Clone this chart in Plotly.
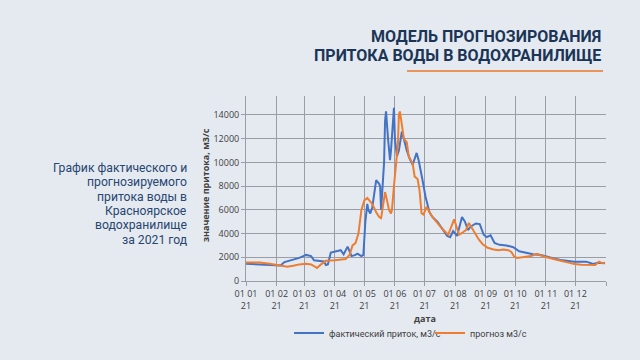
import plotly.graph_objects as go

# ---- data ----
actual_dates = [
    "2021-01-01", "2021-01-10", "2021-01-20", "2021-01-28", "2021-02-05", "2021-02-09",
    "2021-02-14", "2021-02-19", "2021-02-24", "2021-03-03", "2021-03-08", "2021-03-11",
    "2021-03-18", "2021-03-21", "2021-03-23", "2021-03-25", "2021-03-28", "2021-04-02",
    "2021-04-07", "2021-04-10", "2021-04-14", "2021-04-16", "2021-04-18", "2021-04-22",
    "2021-04-24", "2021-04-28", "2021-04-30", "2021-05-02", "2021-05-04", "2021-05-05",
    "2021-05-07", "2021-05-09", "2021-05-11", "2021-05-13", "2021-05-16", "2021-05-17",
    "2021-05-18", "2021-05-20", "2021-05-21", "2021-05-22", "2021-05-23", "2021-05-25",
    "2021-05-27", "2021-05-28", "2021-05-30", "2021-05-31", "2021-06-01", "2021-06-03",
    "2021-06-05", "2021-06-08", "2021-06-10", "2021-06-13", "2021-06-16", "2021-06-19",
    "2021-06-23", "2021-06-25", "2021-06-29", "2021-07-02", "2021-07-06", "2021-07-09",
    "2021-07-14", "2021-07-19", "2021-07-24", "2021-07-27", "2021-07-30", "2021-08-03",
    "2021-08-08", "2021-08-11", "2021-08-14", "2021-08-17", "2021-08-22", "2021-08-26",
    "2021-08-30", "2021-09-02", "2021-09-06", "2021-09-10", "2021-09-15", "2021-09-22",
    "2021-09-29", "2021-10-05", "2021-10-12", "2021-10-19", "2021-10-27", "2021-11-02",
    "2021-11-09", "2021-11-16", "2021-11-23", "2021-11-30", "2021-12-12", "2021-12-19",
    "2021-12-24", "2021-12-31",
]
actual_values = [
    1450, 1420, 1380, 1300, 1300, 1600,
    1700, 1800, 1950, 2200, 2100, 1750,
    1700, 1650, 1350, 1400, 2400, 2500,
    2600, 2250, 2900, 2500, 2100, 2200,
    2300, 2100, 2200, 5000, 6500, 6000,
    5700, 6200, 7500, 8500, 8200, 8000,
    6000, 9000, 10000, 13500, 14300, 12000,
    10200, 11000, 13500, 14600, 12000, 10500,
    11000, 12600, 12000, 11000, 10300, 9800,
    10800, 10200, 8500, 7100, 5800, 5400,
    5000, 4400, 3800, 3700, 4200, 3800,
    5400, 5000, 4300, 4600, 4850, 4800,
    3900, 3700, 3850, 3200, 3050, 3000,
    2850, 2500, 2350, 2250, 2200, 2050,
    1900, 1770, 1690, 1630, 1630, 1430,
    1540, 1490,
]

forecast_dates = [
    "2021-01-01", "2021-01-15", "2021-01-25", "2021-02-01", "2021-02-08", "2021-02-12",
    "2021-02-19", "2021-02-24", "2021-03-03", "2021-03-08", "2021-03-11", "2021-03-14",
    "2021-03-18", "2021-03-23", "2021-04-01", "2021-04-08", "2021-04-12", "2021-04-16",
    "2021-04-19", "2021-04-22", "2021-04-25", "2021-04-28", "2021-05-01", "2021-05-04",
    "2021-05-06", "2021-05-09", "2021-05-13", "2021-05-16", "2021-05-18", "2021-05-20",
    "2021-05-22", "2021-05-24", "2021-05-26", "2021-05-28", "2021-05-29", "2021-05-31",
    "2021-06-02", "2021-06-04", "2021-06-05", "2021-06-06", "2021-06-08", "2021-06-10",
    "2021-06-13", "2021-06-15", "2021-06-19", "2021-06-21", "2021-06-24", "2021-06-26",
    "2021-06-28", "2021-06-30", "2021-07-03", "2021-07-05", "2021-07-09", "2021-07-14",
    "2021-07-19", "2021-07-25", "2021-07-28", "2021-07-31", "2021-08-02", "2021-08-05",
    "2021-08-08", "2021-08-12", "2021-08-15", "2021-08-18", "2021-08-21", "2021-08-25",
    "2021-08-29", "2021-09-03", "2021-09-09", "2021-09-14", "2021-09-19", "2021-09-24",
    "2021-09-27", "2021-09-30", "2021-10-03", "2021-10-10", "2021-10-17", "2021-10-23",
    "2021-10-27", "2021-11-02", "2021-11-09", "2021-11-16", "2021-11-23", "2021-11-30",
    "2021-12-07", "2021-12-14", "2021-12-21", "2021-12-25", "2021-12-28", "2021-12-31",
]
forecast_values = [
    1550, 1550, 1450, 1350, 1300, 1200,
    1300, 1400, 1450, 1400, 1250, 1100,
    1400, 1700, 1750, 1800, 1850, 2200,
    3000, 3200, 4000, 6000, 6800, 7000,
    6800, 6500, 5800, 5400, 5300, 6500,
    7500, 6800, 6000, 5700, 6000, 8000,
    9500, 11500, 14000, 14300, 13200, 12000,
    11700, 10500, 9900, 8800, 8600, 7600,
    5700, 5600, 6250, 6000, 5400, 4900,
    4400, 3900, 4600, 5200, 4700, 3900,
    4050, 4300, 4900, 4500, 4000, 3500,
    3100, 2800, 2650, 2600, 2650, 2600,
    2450, 2050, 1950, 2050, 2100, 2300,
    2150, 2000, 1830, 1710, 1570, 1430,
    1380, 1350, 1350, 1630, 1500, 1550,
]

month_ticks = [
    "2021-01-01", "2021-02-01", "2021-03-01", "2021-04-01", "2021-05-01", "2021-06-01",
    "2021-07-01", "2021-08-01", "2021-09-01", "2021-10-01", "2021-11-01", "2021-12-01",
    "2022-01-01",
]
month_labels = [
    "01 01<br>21", "01 02<br>21", "01 03<br>21", "01 04<br>21", "01 05<br>21", "01 06<br>21",
    "01 07<br>21", "01 08<br>21", "01 09<br>21", "01 10<br>21", "01 11<br>21", "01 12<br>21",
    "",
]

series_names = ["фактический приток, м3/с", "прогноз м3/с"]
title_lines = ["МОДЕЛЬ ПРОГНОЗИРОВАНИЯ", "ПРИТОКА ВОДЫ В ВОДОХРАНИЛИЩЕ"]
side_lines = ["График фактического и", "прогнозируемого", "притока воды в",
              "Красноярское", "водохранилище", "за 2021 год"]

BG = "#e5eaf1"
GRID = "#9a9ea4"
TXT = "#404040"

fig = go.Figure()
fig.add_trace(go.Scatter(x=actual_dates, y=actual_values, mode="lines",
                         name=series_names[0],
                         line=dict(color="#4472c4", width=2)))
fig.add_trace(go.Scatter(x=forecast_dates, y=forecast_values, mode="lines",
                         name=series_names[1],
                         line=dict(color="#ed7d31", width=2)))

# plot area: x 246..606 px, y 96..281 px
L, R, T, B = 246, 606, 96, 281
W, H = R - L, B - T


def px(xp):
    return (xp - L) / W


def py(yp):
    return (B - yp) / H


annotations = []
for i, t in enumerate(title_lines):
    annotations.append(dict(
        text="<b>" + t + "</b>", xref="paper", yref="paper",
        x=px(603), y=py(37 + 18 * i), xanchor="right", yanchor="middle",
        showarrow=False, font=dict(family="Roboto", size=16, color="#1b3556")))
for i, t in enumerate(side_lines):
    annotations.append(dict(
        text=t, xref="paper", yref="paper",
        x=px(188), y=py(168 + 14.3 * i), xanchor="right", yanchor="middle",
        showarrow=False, borderpad=0,
        font=dict(family="Roboto", size=12.2, color="#284670")))
annotations.append(dict(
    text="<b>дата</b>", xref="paper", yref="paper", x=px(425), y=py(318),
    xanchor="center", yanchor="middle", showarrow=False,
    font=dict(family="Open Sans", size=9, color=TXT)))
annotations.append(dict(
    text="<b>значение притока, м3/с</b>", xref="paper", yref="paper",
    x=px(205), y=py(185), xanchor="center", yanchor="middle", textangle=-90,
    showarrow=False, font=dict(family="Open Sans", size=9, color=TXT)))

fig.update_layout(
    width=640, height=360,
    margin=dict(l=L, r=640 - R, t=T, b=360 - B),
    paper_bgcolor=BG, plot_bgcolor=BG,
    font=dict(family="Open Sans", size=9, color=TXT),
    showlegend=True,
    legend=dict(orientation="h", x=px(289), xanchor="left", y=py(333), yanchor="middle",
                bgcolor="rgba(0,0,0,0)", font=dict(family="Roboto", size=9, color=TXT),
                entrywidth=96, itemwidth=30, tracegroupgap=0),
    annotations=annotations,
    shapes=[dict(type="line", xref="paper", yref="paper",
                 x0=px(407), x1=px(603), y0=py(71), y1=py(71),
                 line=dict(color="#e8945a", width=2))],
)
fig.update_xaxes(
    type="date", range=["2021-01-01", "2022-01-01"],
    tickmode="array", tickvals=month_ticks, ticktext=month_labels, tickangle=0,
    showgrid=True, gridcolor=GRID, gridwidth=1,
    showline=True, linecolor=GRID, linewidth=1,
    ticks="outside", ticklen=4, tickcolor=GRID,
    tickfont=dict(size=9, color=TXT), zeroline=False,
)
fig.update_yaxes(
    range=[0, 15600], tickmode="linear", tick0=0, dtick=2000, tickformat="d",
    showgrid=True, gridcolor=GRID, gridwidth=1,
    showline=True, linecolor=GRID, linewidth=1,
    ticks="outside", ticklen=4, tickcolor=GRID,
    tickfont=dict(size=9, color=TXT), zeroline=False,
)

fig.write_html("out.html", config={"displayModeBar": False},
               post_script="document.body.style.margin='0';")
